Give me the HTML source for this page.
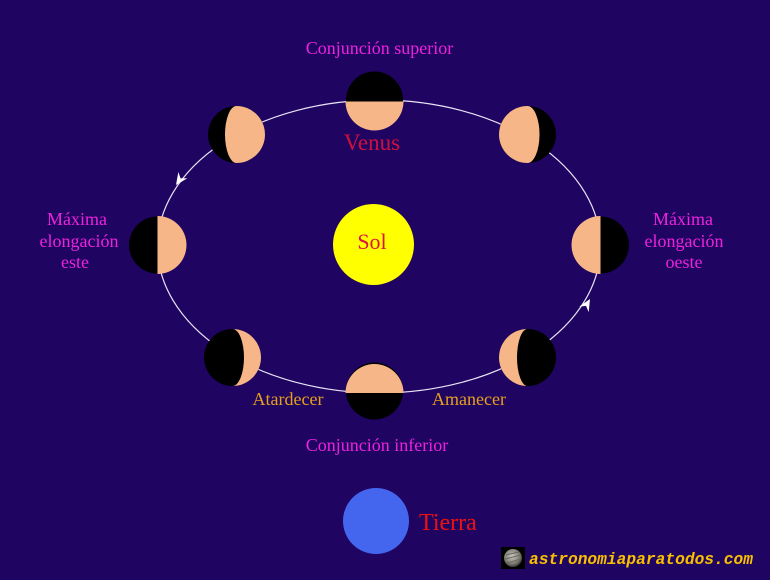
<!DOCTYPE html>
<html>
<head>
<meta charset="utf-8">
<style>
  html, body { margin: 0; padding: 0; background: #1f0462; }
  body { width: 770px; height: 580px; overflow: hidden; }
  svg { display: block; }
  .serif { font-family: "Liberation Serif", "DejaVu Serif", serif; }
</style>
</head>
<body>
<svg width="770" height="580" viewBox="0 0 770 580" xmlns="http://www.w3.org/2000/svg">
  <defs>
    <radialGradient id="jup" cx="45%" cy="40%" r="60%">
      <stop offset="0%" stop-color="#c8c8c0"/>
      <stop offset="70%" stop-color="#807c74"/>
      <stop offset="100%" stop-color="#3a3836"/>
    </radialGradient>
  </defs>
  <rect width="770" height="580" fill="#1f0462"/>

  <!-- orbit -->
  <ellipse cx="379" cy="246.5" rx="221.5" ry="146.5" fill="none" stroke="#e8e4f4" stroke-width="1.2"/>

  <!-- arrowheads -->
  <path d="M0,0 L-12,-5.5 L-8,0 L-12,5.5 Z" fill="#ffffff" transform="translate(176,185) rotate(124.8)"/>
  <path d="M0,0 L-12,-5.5 L-8,0 L-12,5.5 Z" fill="#ffffff" transform="translate(590,299) rotate(-59.8)"/>

  <!-- Sun -->
  <circle cx="373.5" cy="244.5" r="40.5" fill="#ffff00"/>
  <text x="372" y="249" text-anchor="middle" class="serif" font-size="22" fill="#dc143c">Sol</text>

  <!-- Venus top (superior conjunction) -->
  <circle cx="374.5" cy="100" r="28.5" fill="#000"/>
  <path d="M345.5,101.5 A29,29 0 0 0 403.5,101.5 Z" fill="#f7b687"/>

  <!-- Venus bottom (inferior conjunction) -->
  <circle cx="374.5" cy="391" r="28.5" fill="#000"/>
  <path d="M345.5,393 A29,29 0 0 1 403.5,393 Z" fill="#f7b687"/>

  <!-- Left (max elong. east) -->
  <circle cx="157.5" cy="245" r="28.5" fill="#000"/>
  <path d="M157.5,216 A29,29 0 0 1 157.5,274 Z" fill="#f7b687"/>

  <!-- Right (max elong. west) -->
  <circle cx="600.5" cy="245" r="28.5" fill="#000"/>
  <path d="M600.5,216 A29,29 0 0 0 600.5,274 Z" fill="#f7b687"/>

  <!-- Top-left: gibbous, dark crescent on left -->
  <circle cx="236.5" cy="134.5" r="28.5" fill="#000"/>
  <path d="M236.5,106 A28.5,28.5 0 0 1 236.5,163 A11.5,28.5 0 0 1 236.5,106 Z" fill="#f7b687"/>

  <!-- Top-right: gibbous, dark crescent on right -->
  <circle cx="527.5" cy="134.5" r="28.5" fill="#000"/>
  <path d="M527.5,106 A28.5,28.5 0 0 0 527.5,163 A12,28.5 0 0 0 527.5,106 Z" fill="#f7b687"/>

  <!-- Bottom-left: crescent lit on right -->
  <circle cx="232.5" cy="357.5" r="28.5" fill="#000"/>
  <path d="M232.5,329 A28.5,28.5 0 0 1 232.5,386 A11.5,28.5 0 0 0 232.5,329 Z" fill="#f7b687"/>

  <!-- Bottom-right: crescent lit on left -->
  <circle cx="527.5" cy="357.5" r="28.5" fill="#000"/>
  <path d="M527.5,329 A28.5,28.5 0 0 0 527.5,386 A10.5,28.5 0 0 1 527.5,329 Z" fill="#f7b687"/>

  <!-- Labels -->
  <text x="379.5" y="54" text-anchor="middle" class="serif" font-size="18" fill="#ee22dd">Conjunción superior</text>
  <text x="372" y="150" text-anchor="middle" class="serif" font-size="23" fill="#d0103c">Venus</text>

  <text x="77" y="225" text-anchor="middle" class="serif" font-size="18" fill="#ee22dd">Máxima</text>
  <text x="79" y="247" text-anchor="middle" class="serif" font-size="18" fill="#ee22dd">elongación</text>
  <text x="75" y="268" text-anchor="middle" class="serif" font-size="18" fill="#ee22dd">este</text>

  <text x="683" y="225" text-anchor="middle" class="serif" font-size="18" fill="#ee22dd">Máxima</text>
  <text x="684" y="247" text-anchor="middle" class="serif" font-size="18" fill="#ee22dd">elongación</text>
  <text x="684" y="268" text-anchor="middle" class="serif" font-size="18" fill="#ee22dd">oeste</text>

  <text x="288" y="405" text-anchor="middle" class="serif" font-size="18" fill="#e6a01e">Atardecer</text>
  <text x="469" y="405" text-anchor="middle" class="serif" font-size="18" fill="#e6a01e">Amanecer</text>

  <text x="377" y="451" text-anchor="middle" class="serif" font-size="18" fill="#ee22dd">Conjunción inferior</text>

  <!-- Earth -->
  <circle cx="376" cy="521" r="33" fill="#4466ee"/>
  <text x="419" y="530" class="serif" font-size="24" fill="#ee1010">Tierra</text>

  <!-- Logo -->
  <rect x="501" y="547" width="24" height="22" fill="#000"/>
  <circle cx="513" cy="558" r="9" fill="url(#jup)"/>
  <path d="M506,555 L519,552 M505,559 L521,555 M507,563 L521,559" stroke="#6a6660" stroke-width="1" fill="none"/>
  <text x="529" y="564" font-family="'Liberation Mono', 'DejaVu Sans Mono', monospace" font-weight="bold" font-style="italic" font-size="17" fill="#f8c000" textLength="224" lengthAdjust="spacingAndGlyphs">astronomiaparatodos.com</text>
</svg>
</body>
</html>
